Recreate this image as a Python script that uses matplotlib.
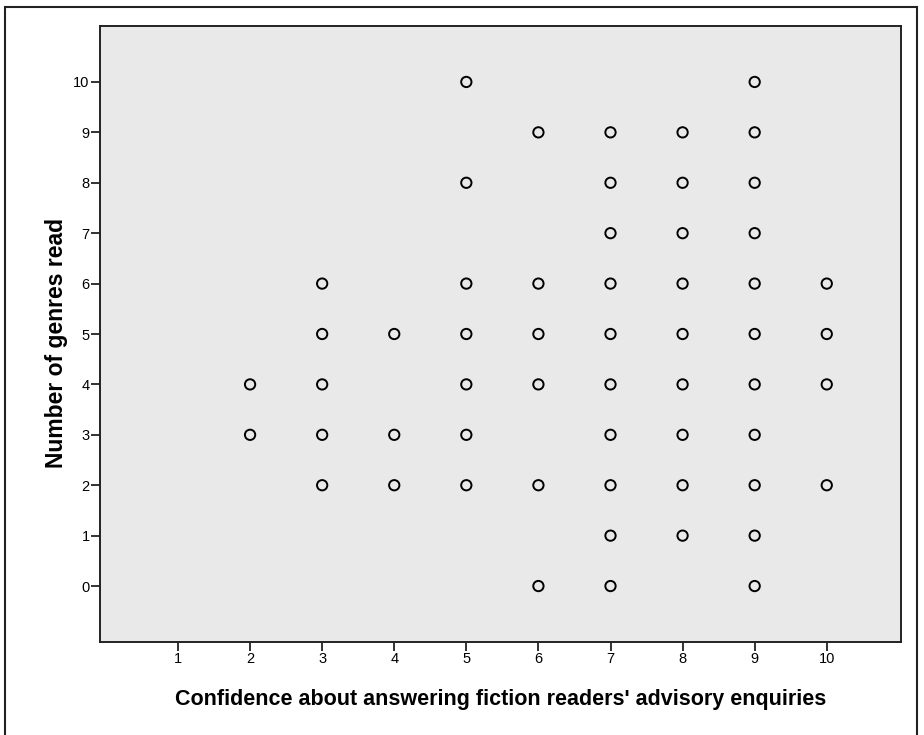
import matplotlib
matplotlib.use("Agg")
import matplotlib.pyplot as plt
from matplotlib.patches import Rectangle

plt.rcParams['font.family'] = ['Liberation Sans', 'DejaVu Sans']

# Data: confidence (x) -> number of genres read (y)
x_vals = [2, 2,
          3, 3, 3, 3, 3,
          4, 4, 4,
          5, 5, 5, 5, 5, 5, 5,
          6, 6, 6, 6, 6, 6,
          7, 7, 7, 7, 7, 7, 7, 7, 7, 7,
          8, 8, 8, 8, 8, 8, 8, 8, 8,
          9, 9, 9, 9, 9, 9, 9, 9, 9, 9, 9,
          10, 10, 10, 10]
y_vals = [3, 4,
          2, 3, 4, 5, 6,
          2, 3, 5,
          2, 3, 4, 5, 6, 8, 10,
          0, 2, 4, 5, 6, 9,
          0, 1, 2, 3, 4, 5, 6, 7, 8, 9,
          1, 2, 3, 4, 5, 6, 7, 8, 9,
          0, 1, 2, 3, 4, 5, 6, 7, 8, 9, 10,
          2, 4, 5, 6]
x_ticks = [1, 2, 3, 4, 5, 6, 7, 8, 9, 10]
y_ticks = [0, 1, 2, 3, 4, 5, 6, 7, 8, 9, 10]
x_label = "Confidence about answering fiction readers' advisory enquiries"
y_label = "Number of genres read"

W, H = 924, 735
fig = plt.figure(figsize=(W / 100, H / 100), dpi=100)
fig.patch.set_facecolor('white')

# outer frame
fig.patches.append(Rectangle((5 / W, -0.01), (917 - 5) / W, 1 - 7 / H + 0.01,
                             transform=fig.transFigure, fill=False,
                             edgecolor='#222222', linewidth=1.5))

left, right, top, bottom = 100, 901, 26, 642
ax = fig.add_axes([left / W, 1 - bottom / H, (right - left) / W, (bottom - top) / H])
ax.set_facecolor('#e9e9e9')

ax.scatter(x_vals, y_vals, s=55, facecolors='none', edgecolors='black',
           linewidths=1.4, zorder=3)

ax.set_xlim(-0.082, 11.03)
ax.set_ylim(-1.11, 11.11)
ax.set_xticks(x_ticks)
ax.set_yticks(y_ticks)
ax.tick_params(axis='both', direction='out', length=6.5, width=1.3,
               labelsize=10.5, pad=1, color='#222222')
for s in ax.spines.values():
    s.set_linewidth(1.4)
    s.set_color('#222222')

ax.set_xlabel(x_label, fontsize=15.5, fontweight='bold', labelpad=16)
ax.set_ylabel(y_label, fontsize=16.5, fontweight='bold', va='center')
ax.yaxis.set_label_coords(-0.0537, 0.485)

fig.savefig('out.png', dpi=100)
